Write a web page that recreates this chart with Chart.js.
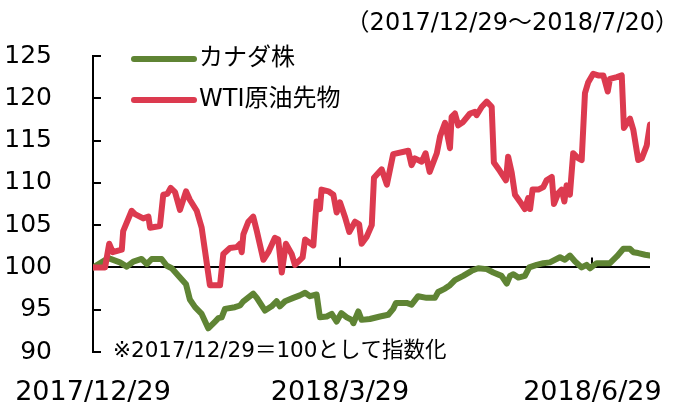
<!DOCTYPE html>
<html>
<head>
<meta charset="utf-8">
<script src="https://cdn.jsdelivr.net/npm/chart.js@4"></script>
<style>
  html, body { margin: 0; padding: 0; background: #fff; }
  #wrap { width: 678px; height: 408px; }
</style>
</head>
<body>
<div id="wrap"><canvas id="myChart" width="678" height="408"></canvas></div>
<script>
// x = calendar days since 2017/12/29
const xTickDays = [0, 90, 182];
const xTickLabels = ["2017/12/29", "2018/3/29", "2018/6/29"];
const lastDay = 203; // 2018/7/20

const titleText = "（2017/12/29～2018/7/20）";
const noteText = "※2017/12/29＝100として指数化";
const seriesNames = ["カナダ株", "WTI原油先物"];

const greenDays = [0, 5.6, 9.8, 12.3, 14.7, 17.7, 19.6, 21.4, 25.0, 26.9, 28.7, 31.7, 33.9, 35.3, 37.2, 39.6,
  42.0, 44.5, 45.7, 46.9, 48.1, 51.7, 53.6, 54.8, 58.4, 59.7, 62.7, 65.1, 66.9, 68.1, 70.0, 73.0, 75.4, 77.3,
  79.1, 81.5, 82.7, 85.2, 87.0, 88.8, 90.5, 92.5, 94.3, 94.9, 96.7, 97.9, 100.9, 104.6, 107.6, 109.4, 110.4,
  114.3, 116.1, 118.5, 121.6, 124.6, 125.8, 128.3, 130.1, 131.9, 134.9, 138.0, 140.4, 143.5, 145.9, 148.9,
  150.8, 152.0, 153.2, 155.0, 157.4, 159.0, 161.7, 164.1, 166.5, 170.2, 172.0, 173.8, 175.7, 178.1, 179.9,
  181.1, 183.6, 188.4, 190.9, 193.3, 195.7, 196.9, 198.7, 201.2, 203.0];
const greenValues = [100.0, 101.1, 100.6, 100.1, 100.7, 101.0, 100.4, 101.0, 101.0, 100.2, 99.9, 98.8, 98.0,
  96.2, 95.3, 94.5, 92.8, 93.6, 94.0, 94.1, 95.1, 95.3, 95.5, 96.0, 96.9, 96.4, 94.9, 95.4, 96.0, 95.4, 96.0,
  96.4, 96.7, 97.0, 96.6, 96.8, 94.1, 94.2, 94.5, 93.6, 94.6, 94.1, 93.8, 93.4, 94.8, 93.8, 93.9, 94.2, 94.4,
  95.1, 95.8, 95.8, 95.6, 96.6, 96.4, 96.4, 97.1, 97.5, 97.9, 98.5, 99.0, 99.6, 99.9, 99.8, 99.4, 99.0, 98.1,
  99.0, 99.2, 98.8, 99.0, 100.0, 100.3, 100.5, 100.6, 101.2, 100.9, 101.4, 100.7, 100.0, 100.3, 99.9, 100.5,
  100.5, 101.3, 102.2, 102.2, 101.8, 101.7, 101.5, 101.4];

const redDays = [0, 4.4, 5.9, 7.2, 10.5, 11.0, 14.1, 15.3, 18.3, 20.2, 20.8, 24.4, 25.6, 27.1, 28.3, 29.9,
  31.7, 33.9, 35.3, 37.8, 39.6, 40.8, 42.6, 46.3, 47.5, 49.9, 52.4, 53.6, 54.2, 54.8, 56.6, 58.4, 59.7, 62.1,
  63.9, 66.3, 67.5, 68.8, 70.3, 72.4, 73.6, 76.4, 77.3, 80.3, 81.5, 82.7, 83.3, 85.8, 87.6, 88.8, 90.0, 91.8,
  93.4, 95.5, 97.0, 97.9, 99.7, 101.6, 102.4, 105.2, 107.1, 109.4, 114.9, 116.1, 117.3, 119.8, 121.2, 122.7,
  125.3, 126.5, 128.3, 130.1, 130.7, 131.9, 133.1, 134.9, 137.4, 139.2, 139.8, 141.7, 143.5, 145.3, 146.1,
  148.3, 150.5, 151.3, 152.6, 153.8, 156.2, 157.4, 158.6, 159.3, 160.2, 162.3, 164.1, 165.3, 167.2, 168.0,
  169.6, 170.8, 171.8, 172.6, 173.8, 175.0, 176.9, 178.1, 179.3, 180.5, 182.3, 184.1, 186.0, 187.6, 188.4,
  190.9, 192.7, 193.5, 195.7, 196.9, 198.7, 200.0, 201.8, 203.0];
const redValues = [100.0, 100.0, 102.8, 101.8, 102.1, 104.3, 106.7, 106.3, 105.8, 106.0, 104.7, 104.9, 108.6,
  108.7, 109.4, 108.9, 106.8, 109.0, 108.0, 106.7, 104.7, 102.0, 97.9, 97.9, 101.6, 102.3, 102.4, 102.8, 101.8,
  103.9, 105.4, 106.0, 104.3, 100.9, 101.8, 103.5, 103.3, 99.4, 102.8, 101.6, 100.3, 101.2, 103.3, 102.6, 107.8,
  106.9, 109.2, 109.0, 108.6, 106.5, 107.7, 106.0, 104.2, 105.4, 105.1, 102.8, 103.6, 105.0, 110.6, 111.6, 109.8,
  113.4, 113.8, 112.1, 112.9, 112.5, 113.5, 111.3, 113.5, 115.5, 117.1, 114.1, 117.8, 118.2, 116.8, 117.2, 118.2,
  118.4, 118.0, 119.0, 119.6, 119.0, 112.4, 111.4, 110.3, 113.1, 111.2, 108.6, 107.5, 106.9, 108.2, 106.9, 109.2,
  109.2, 109.5, 110.3, 110.7, 107.5, 108.8, 109.2, 107.8, 109.7, 108.6, 113.5, 112.9, 112.7, 120.6, 121.9, 122.9,
  122.7, 122.7, 120.8, 122.3, 122.5, 122.7, 116.5, 117.6, 116.3, 112.7, 112.9, 114.4, 116.9];

const greenColor = "#5f8434";
const redColor = "#dc3a4f";
const fontFamily = "'DejaVu Sans', 'Noto Sans CJK JP', sans-serif";

function toPoints(days, values) {
    return days.map((d, i) => ({ x: d, y: values[i] }));
}

// inward ticks, titles, legend and note
const extras = {
    id: "extras",
    beforeDatasetsDraw(chart) {
        const ctx = chart.ctx;
        const area = chart.chartArea;
        const ys = chart.scales.y;
        const xs = chart.scales.x;
        ctx.save();
        ctx.strokeStyle = "#000";
        ctx.lineWidth = 2;
        ys.ticks.forEach((t) => {
            const y = Math.round(ys.getPixelForValue(t.value));
            ctx.beginPath();
            ctx.moveTo(area.left, y);
            ctx.lineTo(area.left + 8, y);
            ctx.stroke();
        });
        const base = ys.getPixelForValue(100);
        xTickDays.slice(1).forEach((d) => {
            const x = Math.round(xs.getPixelForValue(d));
            ctx.beginPath();
            ctx.moveTo(x, base);
            ctx.lineTo(x, base - 10);
            ctx.stroke();
        });
        ctx.restore();
    },
    afterDraw(chart) {
        const ctx = chart.ctx;
        ctx.save();
        ctx.fillStyle = "#000";
        ctx.textBaseline = "middle";

        ctx.font = "24px " + fontFamily;
        ctx.textAlign = "right";
        ctx.fillText(titleText, 679, 24);

        ctx.textAlign = "left";
        ctx.font = "21.5px " + fontFamily;
        ctx.fillText(noteText, 113, 351);

        ctx.font = "24px " + fontFamily;
        ctx.lineCap = "round";
        ctx.lineWidth = 6;
        [[greenColor, 59], [redColor, 100]].forEach((item, i) => {
            ctx.strokeStyle = item[0];
            ctx.beginPath();
            ctx.moveTo(134, item[1]);
            ctx.lineTo(194, item[1]);
            ctx.stroke();
            ctx.fillText(seriesNames[i], 199, item[1]);
        });
        ctx.restore();
    }
};

const config = {
    type: "line",
    data: {
        datasets: [
            {
                label: seriesNames[1],
                data: toPoints(redDays, redValues),
                borderColor: redColor,
                backgroundColor: redColor,
                borderWidth: 6,
                pointRadius: 0,
                borderJoinStyle: "round",
                borderCapStyle: "round",
            },
            {
                label: seriesNames[0],
                data: toPoints(greenDays, greenValues),
                borderColor: greenColor,
                backgroundColor: greenColor,
                borderWidth: 6,
                pointRadius: 0,
                borderJoinStyle: "round",
                borderCapStyle: "round",
            },
        ],
    },
    options: {
        responsive: false,
        animation: false,
        devicePixelRatio: 1,
        layout: { padding: { top: 44, right: 28, left: 0, bottom: 0 } },
        plugins: { legend: { display: false }, tooltip: { enabled: false } },
        scales: {
            x: {
                type: "linear",
                min: 0,
                max: lastDay,
                afterBuildTicks: (scale) => {
                    scale.ticks = xTickDays.map((v) => ({ value: v }));
                },
                afterFit: (scale) => {
                    scale.height = 53;
                    scale.paddingLeft = 0;
                    scale.paddingRight = 0;
                },
                grid: { display: false, drawTicks: false },
                border: { display: false },
                ticks: {
                    autoSkip: false,
                    maxRotation: 0,
                    padding: 25,
                    color: "#000",
                    font: { family: fontFamily, size: 27 },
                    callback: (v) => xTickLabels[xTickDays.indexOf(v)],
                },
            },
            y: {
                min: 90,
                max: 125,
                afterFit: (scale) => { scale.width = 93; },
                border: { display: true, color: "#000", width: 2 },
                grid: {
                    drawTicks: false,
                    lineWidth: 2,
                    color: (c) => (c.tick && c.tick.value === 100 ? "#000" : "rgba(0,0,0,0)"),
                },
                ticks: {
                    stepSize: 5,
                    padding: 41,
                    color: "#000",
                    font: { family: fontFamily, size: 25 },
                },
            },
        },
    },
    plugins: [extras],
};

new Chart(document.getElementById("myChart"), config);
</script>
</body>
</html>
